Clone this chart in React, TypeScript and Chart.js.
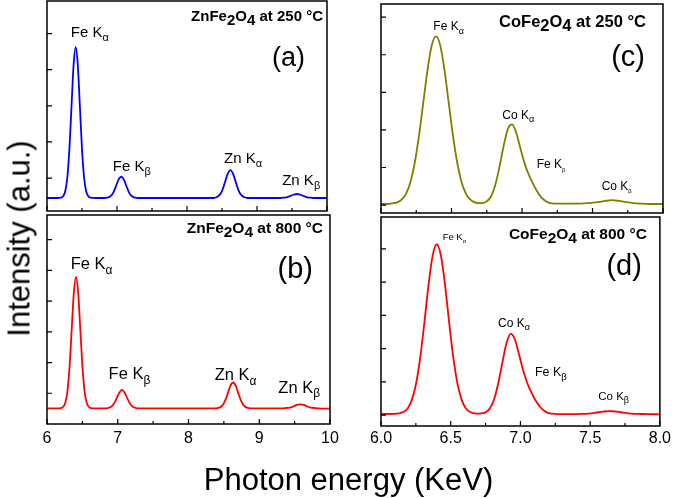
import { useEffect, useRef } from 'react';
import { Chart, registerables } from 'chart.js';

Chart.register(...registerables);

const FONT = '"Liberation Sans", Arial, Helvetica, sans-serif';

// EDS spectra: [photon energy (keV), intensity (a.u.)]
const znFe250: [number, number][] = [
  [6.00, 0.45], [6.15, 0.45], [6.20, 0.46], [6.23, 0.50], [6.26, 0.63], [6.29, 1.01], [6.32, 1.80],
  [6.35, 2.98], [6.38, 4.13], [6.41, 4.62], [6.44, 4.13], [6.47, 2.98], [6.50, 1.80], [6.53, 1.01],
  [6.56, 0.63], [6.59, 0.50], [6.62, 0.46], [6.70, 0.45], [6.82, 0.45], [6.86, 0.46], [6.90, 0.49],
  [6.94, 0.57], [6.98, 0.75], [7.02, 0.95], [7.06, 1.04], [7.10, 0.95], [7.14, 0.75], [7.18, 0.57],
  [7.22, 0.49], [7.26, 0.46], [7.30, 0.45], [7.40, 0.45], [8.00, 0.45], [8.38, 0.45], [8.42, 0.47],
  [8.46, 0.52], [8.50, 0.64], [8.54, 0.87], [8.58, 1.11], [8.62, 1.22], [8.66, 1.11], [8.70, 0.87],
  [8.74, 0.64], [8.78, 0.52], [8.82, 0.47], [8.86, 0.45], [9.00, 0.45], [9.32, 0.45], [9.37, 0.46],
  [9.42, 0.47], [9.47, 0.50], [9.52, 0.54], [9.57, 0.56], [9.62, 0.54], [9.67, 0.50], [9.72, 0.47],
  [9.77, 0.46], [9.82, 0.45], [10.00, 0.45],
];

const znFe800: [number, number][] = [
  [6.00, 0.51], [6.15, 0.51], [6.20, 0.52], [6.23, 0.56], [6.26, 0.70], [6.29, 1.09], [6.32, 1.90],
  [6.35, 3.11], [6.38, 4.29], [6.41, 4.79], [6.44, 4.29], [6.47, 3.11], [6.50, 1.90], [6.53, 1.09],
  [6.56, 0.70], [6.59, 0.56], [6.62, 0.52], [6.70, 0.51], [6.82, 0.51], [6.86, 0.52], [6.90, 0.55],
  [6.94, 0.64], [6.98, 0.81], [7.02, 1.01], [7.06, 1.11], [7.10, 1.01], [7.14, 0.81], [7.18, 0.64],
  [7.22, 0.55], [7.26, 0.52], [7.30, 0.51], [7.40, 0.51], [8.00, 0.51], [8.39, 0.51], [8.43, 0.53],
  [8.47, 0.58], [8.51, 0.72], [8.55, 0.96], [8.59, 1.23], [8.63, 1.35], [8.67, 1.23], [8.71, 0.96],
  [8.75, 0.72], [8.79, 0.58], [8.83, 0.53], [8.87, 0.51], [9.00, 0.51], [9.33, 0.51], [9.38, 0.52],
  [9.43, 0.53], [9.48, 0.57], [9.53, 0.62], [9.58, 0.64], [9.63, 0.62], [9.68, 0.57], [9.73, 0.53],
  [9.78, 0.52], [9.83, 0.51], [10.00, 0.50],
];

const coFe250: [number, number][] = [
  [6.00, 0.03], [6.03, 0.03], [6.06, 0.035], [6.09, 0.05], [6.12, 0.08], [6.15, 0.16], [6.18, 0.32],
  [6.21, 0.63], [6.24, 1.14], [6.27, 1.86], [6.30, 2.73], [6.33, 3.60], [6.36, 4.25], [6.39, 4.49],
  [6.42, 4.25], [6.45, 3.60], [6.48, 2.73], [6.51, 1.86], [6.54, 1.14], [6.57, 0.63], [6.60, 0.32],
  [6.63, 0.16], [6.66, 0.08], [6.69, 0.055], [6.72, 0.053], [6.75, 0.10], [6.78, 0.23], [6.81, 0.53],
  [6.84, 1.01], [6.87, 1.58], [6.90, 2.03], [6.93, 2.15], [6.96, 1.91], [6.99, 1.49], [7.02, 1.09],
  [7.05, 0.79], [7.08, 0.55], [7.11, 0.35], [7.14, 0.19], [7.17, 0.10], [7.20, 0.05], [7.23, 0.04],
  [7.30, 0.04], [7.38, 0.04], [7.44, 0.045], [7.49, 0.06], [7.54, 0.08], [7.59, 0.11], [7.64, 0.13],
  [7.69, 0.11], [7.74, 0.08], [7.79, 0.055], [7.84, 0.04], [7.90, 0.03], [8.00, 0.03],
];

const coFe800: [number, number][] = [
  [6.00, 0.03], [6.10, 0.035], [6.13, 0.05], [6.16, 0.09], [6.19, 0.19], [6.22, 0.44], [6.25, 0.91],
  [6.28, 1.69], [6.31, 2.74], [6.34, 3.89], [6.37, 4.79], [6.40, 5.14], [6.43, 4.79], [6.46, 3.89],
  [6.49, 2.74], [6.52, 1.69], [6.55, 0.91], [6.58, 0.44], [6.61, 0.19], [6.64, 0.09], [6.67, 0.05],
  [6.70, 0.04], [6.72, 0.05], [6.75, 0.08], [6.78, 0.20], [6.81, 0.46], [6.84, 0.94], [6.87, 1.57],
  [6.90, 2.16], [6.93, 2.44], [6.96, 2.28], [6.99, 1.82], [7.02, 1.34], [7.05, 0.95], [7.08, 0.67],
  [7.11, 0.43], [7.14, 0.25], [7.17, 0.13], [7.20, 0.06], [7.23, 0.04], [7.26, 0.03], [7.35, 0.03],
  [7.44, 0.035], [7.49, 0.045], [7.54, 0.07], [7.59, 0.10], [7.64, 0.12], [7.69, 0.10], [7.74, 0.07],
  [7.79, 0.045], [7.84, 0.035], [7.90, 0.03], [8.00, 0.02],
];

// axis ticks
const leftMajor = [6, 7, 8, 9, 10];
const leftMinor = [6.5, 7.5, 8.5, 9.5];
const rightMajor = [6, 6.5, 7, 7.5, 8];
const rightMinor = [6.25, 6.75, 7.25, 7.75];
const yTicksA = [1, 2, 3, 4, 5];
const yTicksB = [1, 2, 3, 4, 5, 6];
const yTicksC = [0, 1, 2, 3, 4, 5];
const yTicksD = [0, 1, 2, 3, 4, 5];

type Peak = { name: string; sub: string; x: number; y: number; size: number; subSize: number };

const panels = [
  {
    key: 'a', data: znFe250, color: '#0000ff', xMin: 6, xMax: 10, yMin: 0.09, yMax: 5.9,
    xMajor: leftMajor, xMinor: leftMinor, yTicks: yTicksA, showX: false, tickPad: 5, decimals: 0,
    pad: { left: 47, top: 1, right: 347, bottom: 287 },
    title: { compound: 'Zn', temp: '250', size: 15, dx: 4, dy: 20 },
    letter: { t: '(a)', size: 27, dx: 22, dy: 65 },
    peaks: [
      { name: 'Fe K', sub: 'α', x: 6.34, y: 4.91, size: 15, subSize: 11 },
      { name: 'Fe K', sub: 'β', x: 6.94, y: 1.21, size: 15, subSize: 11 },
      { name: 'Zn K', sub: 'α', x: 8.53, y: 1.41, size: 15, subSize: 11 },
      { name: 'Zn K', sub: 'β', x: 9.36, y: 0.81, size: 15, subSize: 11 },
    ] as Peak[],
  },
  {
    key: 'b', data: znFe800, color: '#ff0000', xMin: 6, xMax: 10, yMin: 0, yMax: 6.8,
    xMajor: leftMajor, xMinor: leftMinor, yTicks: yTicksB, showX: true, tickPad: 5, decimals: 0,
    pad: { left: 47, top: 215, right: 344, bottom: 44.8 },
    title: { compound: 'Zn', temp: '800', size: 15.5, dx: 7, dy: 18 },
    letter: { t: '(b)', size: 29, dx: 17, dy: 63 },
    peaks: [
      { name: 'Fe K', sub: 'α', x: 6.335, y: 5.03, size: 16.5, subSize: 12 },
      { name: 'Fe K', sub: 'β', x: 6.87, y: 1.45, size: 16.5, subSize: 12 },
      { name: 'Zn K', sub: 'α', x: 8.37, y: 1.43, size: 16.5, subSize: 12 },
      { name: 'Zn K', sub: 'β', x: 9.27, y: 1.02, size: 16.5, subSize: 12 },
    ] as Peak[],
  },
  {
    key: 'c', data: coFe250, color: '#7f7f00', xMin: 6, xMax: 8, yMin: -0.21, yMax: 5.35,
    xMajor: rightMajor, xMinor: rightMinor, yTicks: yTicksC, showX: false, tickPad: 3, decimals: 1,
    pad: { left: 381, top: 4, right: 11, bottom: 285 },
    title: { compound: 'Co', temp: '250', size: 16.5, dx: 17, dy: 23 },
    letter: { t: '(c)', size: 29, dx: 18, dy: 62 },
    peaks: [
      { name: 'Fe K', sub: 'α', x: 6.371, y: 4.65, size: 12, subSize: 9 },
      { name: 'Co K', sub: 'α', x: 6.86, y: 2.29, size: 12, subSize: 9 },
      { name: 'Fe K', sub: 'β', x: 7.104, y: 0.98, size: 12, subSize: 6 },
      { name: 'Co K', sub: 'β', x: 7.565, y: 0.40, size: 12, subSize: 6 },
    ] as Peak[],
  },
  {
    key: 'd', data: coFe800, color: '#ff0000', xMin: 6, xMax: 8, yMin: -0.33, yMax: 5.96,
    xMajor: rightMajor, xMinor: rightMinor, yTicks: yTicksD, showX: true, tickPad: 3, decimals: 1,
    pad: { left: 381, top: 217, right: 11, bottom: 46.8 },
    title: { compound: 'Co', temp: '800', size: 15.5, dx: 13, dy: 22 },
    letter: { t: '(d)', size: 29, dx: 18, dy: 58 },
    peaks: [
      { name: 'Fe K', sub: 'α', x: 6.442, y: 5.27, size: 9.5, subSize: 6 },
      { name: 'Co K', sub: 'α', x: 6.839, y: 2.66, size: 12, subSize: 9 },
      { name: 'Fe K', sub: 'β', x: 7.104, y: 1.17, size: 12.5, subSize: 9.5 },
      { name: 'Co K', sub: 'β', x: 7.558, y: 0.45, size: 11.5, subSize: 9 },
    ] as Peak[],
  },
];

type Part = { t: string; size: number; bold?: boolean; dy?: number };

function partsWidth(ctx: CanvasRenderingContext2D, parts: Part[]) {
  let w = 0;
  for (const p of parts) {
    ctx.font = `${p.bold ? 'bold ' : ''}${p.size}px ${FONT}`;
    w += ctx.measureText(p.t).width;
  }
  return w;
}

function drawParts(ctx: CanvasRenderingContext2D, parts: Part[], x: number, y: number) {
  let cx = x;
  for (const p of parts) {
    ctx.font = `${p.bold ? 'bold ' : ''}${p.size}px ${FONT}`;
    ctx.fillText(p.t, cx, y + (p.dy || 0));
    cx += ctx.measureText(p.t).width;
  }
}

function Panel({ spec }: { spec: typeof panels[number] }) {
  const canvasRef = useRef<HTMLCanvasElement>(null);

  useEffect(() => {
    if (!canvasRef.current) return;

    const decor = {
      id: 'decor' + spec.key,
      afterDraw(chart: any) {
        const { ctx, chartArea: a, scales } = chart;
        const xs = scales.x;
        const ys = scales.y;
        ctx.save();
        ctx.strokeStyle = '#000';
        ctx.lineWidth = 1.2;
        ctx.beginPath();
        xs.ticks.forEach((t: any) => {
          const px = xs.getPixelForValue(t.value);
          ctx.moveTo(px, a.bottom);
          ctx.lineTo(px, a.bottom - 5);
        });
        spec.xMinor.forEach(v => {
          const px = xs.getPixelForValue(v);
          ctx.moveTo(px, a.bottom);
          ctx.lineTo(px, a.bottom - 3);
        });
        ys.ticks.forEach((t: any) => {
          const py = ys.getPixelForValue(t.value);
          ctx.moveTo(a.left, py);
          ctx.lineTo(a.left + 5, py);
        });
        ctx.stroke();
        ctx.lineWidth = 1.5;
        ctx.strokeRect(a.left, a.top, a.right - a.left, a.bottom - a.top);

        ctx.fillStyle = '#000';
        ctx.textAlign = 'left';
        ctx.textBaseline = 'alphabetic';

        // peak labels
        spec.peaks.forEach(p => {
          const parts: Part[] = [
            { t: p.name, size: p.size },
            { t: p.sub, size: p.subSize, dy: p.size * 0.28 },
          ];
          drawParts(ctx, parts, xs.getPixelForValue(p.x), ys.getPixelForValue(p.y));
        });

        // sample title
        const ts = spec.title.size;
        const title: Part[] = [
          { t: spec.title.compound + 'Fe', size: ts, bold: true },
          { t: '2', size: ts, bold: true, dy: 4 },
          { t: 'O', size: ts, bold: true },
          { t: '4', size: ts, bold: true, dy: 4 },
          { t: ` at ${spec.title.temp} °C`, size: ts, bold: true },
        ];
        const tw = partsWidth(ctx, title);
        drawParts(ctx, title, a.right - spec.title.dx - tw, a.top + spec.title.dy);

        // panel letter
        const letter: Part[] = [{ t: spec.letter.t, size: spec.letter.size }];
        const lw = partsWidth(ctx, letter);
        drawParts(ctx, letter, a.right - spec.letter.dx - lw, a.top + spec.letter.dy);
        ctx.restore();
      },
    };

    const chart = new Chart(canvasRef.current, {
      type: 'line',
      data: {
        datasets: [{
          data: spec.data.map(([x, y]) => ({ x, y })),
          borderColor: spec.color,
          borderWidth: 1.8,
          pointRadius: 0,
          fill: false,
          cubicInterpolationMode: 'monotone',
        }],
      },
      options: {
        animation: false,
        responsive: false,
        events: [],
        layout: { padding: spec.pad },
        plugins: { legend: { display: false }, tooltip: { enabled: false } },
        scales: {
          x: {
            type: 'linear',
            min: spec.xMin,
            max: spec.xMax,
            afterBuildTicks: (s: any) => { s.ticks = spec.xMajor.map(v => ({ value: v })); },
            grid: { display: false, drawTicks: false },
            border: { display: false },
            ticks: {
              display: spec.showX,
              autoSkip: false,
              maxRotation: 0,
              padding: spec.tickPad,
              color: '#000',
              font: { family: FONT, size: 16 },
              callback: (v: any) => Number(v).toFixed(spec.decimals),
            },
          },
          y: {
            type: 'linear',
            min: spec.yMin,
            max: spec.yMax,
            afterBuildTicks: (s: any) => { s.ticks = spec.yTicks.map(v => ({ value: v })); },
            grid: { display: false, drawTicks: false },
            border: { display: false },
            ticks: { display: false },
          },
        },
      },
      plugins: [decor],
    } as any);

    return () => chart.destroy();
  }, [spec]);

  return (
    <canvas
      ref={canvasRef}
      width={674}
      height={498}
      style={{ position: 'absolute', left: 0, top: 0 }}
    />
  );
}

export default function App() {
  return (
    <div style={{ position: 'absolute', left: 0, top: 0, width: 674, height: 498, background: '#fff', overflow: 'hidden', fontFamily: FONT }}>
      {panels.map(p => <Panel key={p.key} spec={p} />)}
      <div
        style={{
          position: 'absolute', left: -130.7, top: 223, width: 300, height: 31,
          fontSize: 31, lineHeight: '31px', textAlign: 'center', whiteSpace: 'nowrap',
          color: '#000', transform: 'rotate(-90deg)',
        }}
      >
        Intensity (a.u.)
      </div>
      <div
        style={{
          position: 'absolute', left: 48.5, top: 463.8, width: 600, height: 31,
          fontSize: 31, lineHeight: '31px', textAlign: 'center', whiteSpace: 'nowrap', color: '#000',
        }}
      >
        Photon energy (KeV)
      </div>
    </div>
  );
}
